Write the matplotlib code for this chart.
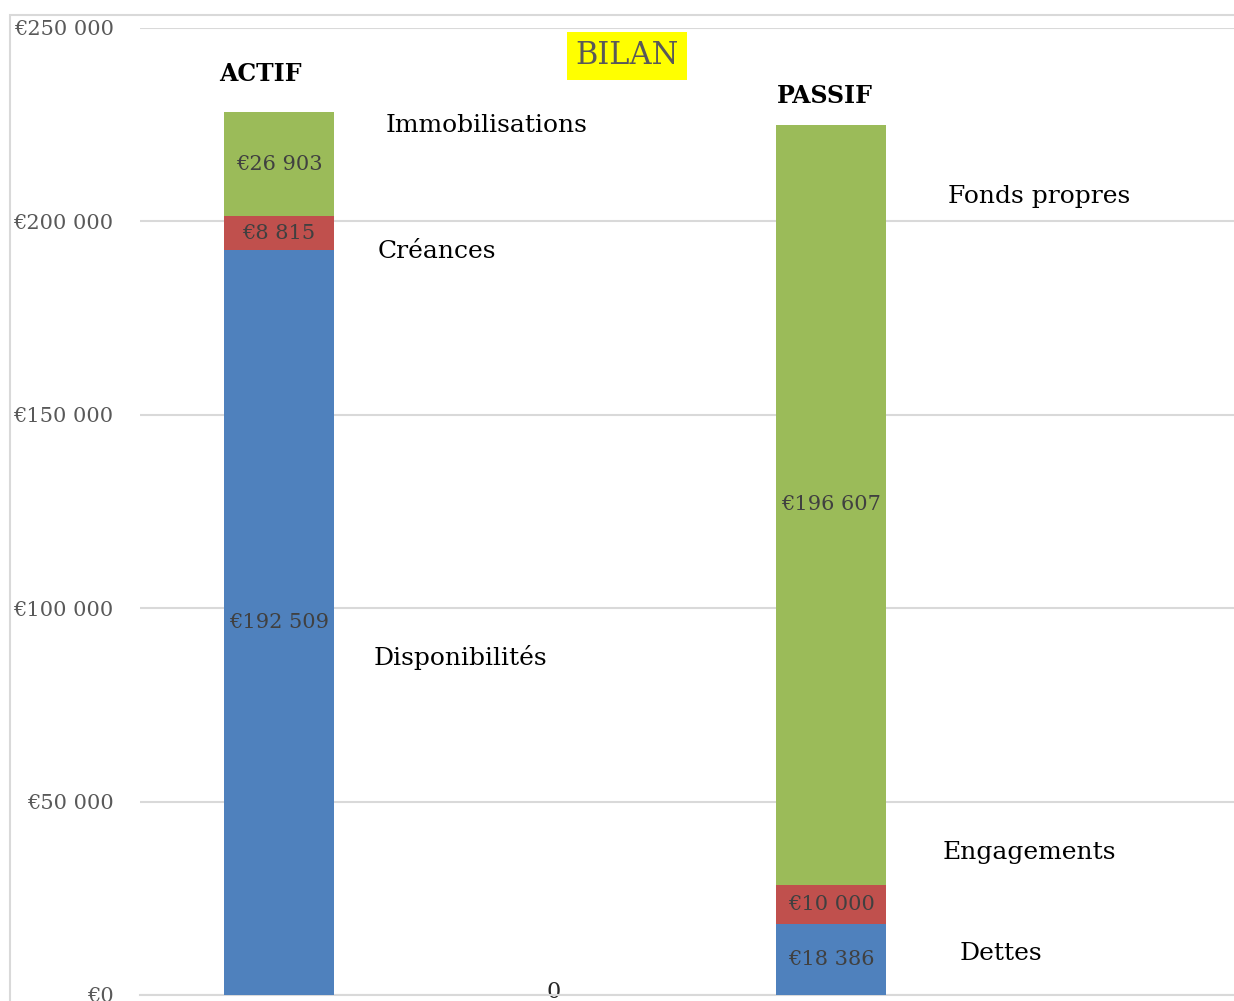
import matplotlib.pyplot as plt
from matplotlib.patches import Rectangle

# données du bilan
colonnes = ["ACTIF", "PASSIF"]
bas = [192509, 18386]      # Disponibilités / Dettes
milieu = [8815, 10000]     # Créances / Engagements
haut = [26903, 196607]     # Immobilisations / Fonds propres
etiq_bas = ["€192 509", "€18 386"]
etiq_milieu = ["€8 815", "€10 000"]
etiq_haut = ["€26 903", "€196 607"]
yticks = [0, 50000, 100000, 150000, 200000, 250000]
ytick_labels = ["€0", "€50 000", "€100 000", "€150 000", "€200 000", "€250 000"]

bleu = "#4F81BD"
rouge = "#C0504D"
vert = "#9BBB59"

plt.rcParams["font.family"] = ["DejaVu Serif"]

W, H = 1234, 1001
fig = plt.figure(figsize=(W / 100, H / 100), dpi=100)
ax = fig.add_axes([140 / W, 6 / H, 1 - 140 / W, (995 - 28) / H])

x = [0, 1]
largeur = 0.2
ax.bar(x, bas, largeur, color=bleu, zorder=3)
ax.bar(x, milieu, largeur, bottom=bas, color=rouge, zorder=3)
cumul = [b + m for b, m in zip(bas, milieu)]
ax.bar(x, haut, largeur, bottom=cumul, color=vert, zorder=3)

for i in range(2):
    ax.text(x[i], bas[i] / 2, etiq_bas[i], ha="center", va="center",
            fontsize=15, color="#404040", zorder=4)
    ax.text(x[i], bas[i] + milieu[i] / 2, etiq_milieu[i], ha="center", va="center",
            fontsize=15, color="#404040", zorder=4)
    ax.text(x[i], cumul[i] + haut[i] / 2, etiq_haut[i], ha="center", va="center",
            fontsize=15, color="#404040", zorder=4)

ax.set_xlim(-0.252, 1.73)
ax.set_ylim(0, 250000)
ax.set_yticks(yticks)
ax.set_yticklabels(ytick_labels, fontsize=15, color="#595959")
ax.set_xticks([0.498])
ax.set_xticklabels(["0"], fontsize=16, color="#262626")
ax.tick_params(axis="y", length=0, pad=19)
ax.tick_params(axis="x", length=0, pad=-10)
ax.grid(axis="y", color="#d9d9d9", linewidth=1.5, zorder=0)
for s in ["top", "right", "left"]:
    ax.spines[s].set_visible(False)
ax.spines["bottom"].set_color("#d9d9d9")
ax.spines["bottom"].set_linewidth(1.5)


def fx(px):
    return px / W


def fy(py):
    return 1 - py / H


# cadre extérieur
fig.add_artist(Rectangle((fx(10), fy(1100)), 2, fy(15) - fy(1100),
                         transform=fig.transFigure, fill=False,
                         edgecolor="#d9d9d9", linewidth=1.5))

fig.text(fx(627), fy(56), "BILAN", ha="center", va="center", fontsize=22,
         color="#595959",
         bbox=dict(facecolor="#FFFF00", edgecolor="none", pad=6))
fig.text(fx(260), fy(74), "ACTIF", ha="center", va="center", fontsize=17,
         fontweight="bold", color="black")
fig.text(fx(825), fy(96), "PASSIF", ha="center", va="center", fontsize=17,
         fontweight="bold", color="black")

libelles = [("Immobilisations", 386, 125), ("Créances", 378, 252),
            ("Disponibilités", 374, 657), ("Fonds propres", 948, 196),
            ("Engagements", 943, 853), ("Dettes", 960, 953)]
for txt, px, py in libelles:
    fig.text(fx(px), fy(py), txt, ha="left", va="center", fontsize=18,
             color="black")

fig.savefig("out.png", dpi=100)
